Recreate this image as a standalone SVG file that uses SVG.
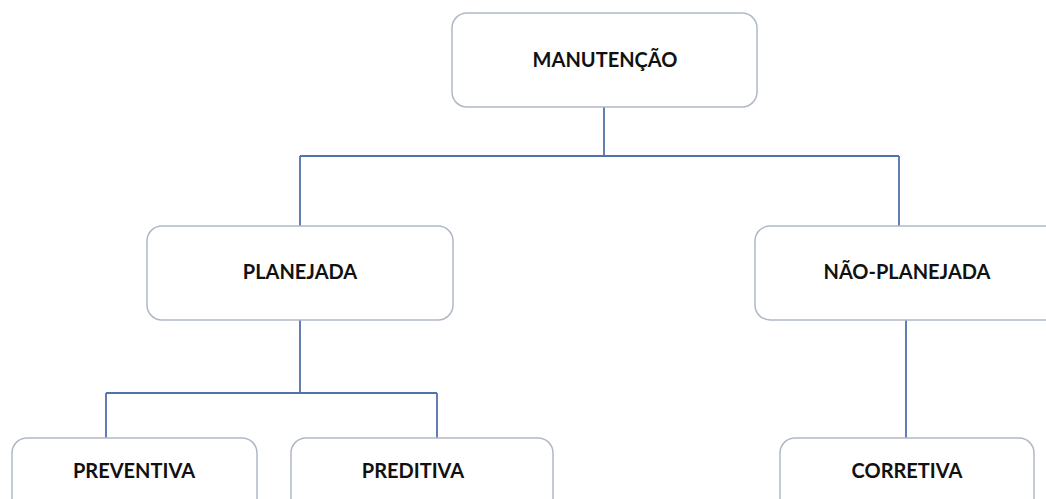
<svg xmlns="http://www.w3.org/2000/svg" width="1046" height="499" viewBox="0 0 1046 499">
  <style>
    .box { fill: #ffffff; stroke: #b0b8c8; stroke-width: 1.5; }
    .lbl { font-family: Lato, "Open Sans", "Liberation Sans", sans-serif; font-weight: bold; font-size: 20px; fill: #111111; text-anchor: middle; }
    .wire { fill: none; stroke: #5272aa; stroke-width: 1.8; }
  </style>
  <rect width="1046" height="499" fill="#ffffff"/>

  <g id="connectors">
    <path class="wire" d="M604 107 V156 M300 156 H899 M300 156 V226 M899 156 V226"/>
    <path class="wire" d="M300 320 V393 M106 393 H437 M106 393 V438 M437 393 V438"/>
    <path class="wire" d="M906 320 V438"/>
  </g>

  <g id="manutencao">
    <rect class="box" x="452" y="13" width="305" height="94" rx="15"/>
    <text class="lbl" x="605" y="67">MANUTENÇÃO</text>
  </g>
  <g id="planejada">
    <rect class="box" x="147" y="226" width="306" height="94" rx="15"/>
    <text class="lbl" x="300" y="279">PLANEJADA</text>
  </g>
  <g id="nao-planejada">
    <rect class="box" x="755" y="226" width="320" height="94" rx="15"/>
    <text class="lbl" x="907" y="279">NÃO-PLANEJADA</text>
  </g>
  <g id="preventiva">
    <rect class="box" x="12" y="438" width="245" height="90" rx="15"/>
    <text class="lbl" x="134" y="478">PREVENTIVA</text>
  </g>
  <g id="preditiva">
    <rect class="box" x="291" y="438" width="262" height="90" rx="15"/>
    <text class="lbl" x="413" y="478">PREDITIVA</text>
  </g>
  <g id="corretiva">
    <rect class="box" x="780" y="438" width="254" height="90" rx="15"/>
    <text class="lbl" x="907" y="478">CORRETIVA</text>
  </g>
</svg>
